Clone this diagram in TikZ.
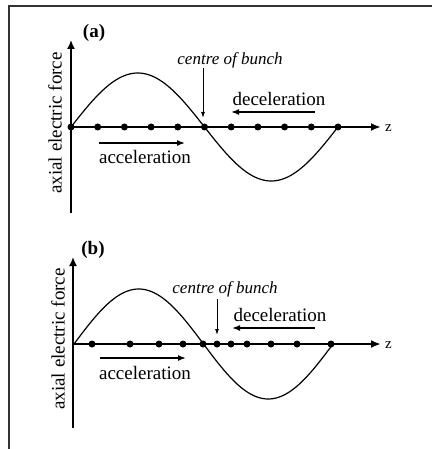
\documentclass[tikz,border=0pt]{standalone}
\usepackage{fontspec}
\setmainfont{Liberation Serif}
\usetikzlibrary{arrows.meta}
\begin{document}
\begin{tikzpicture}[x=1pt,y=-1pt,
  lbl/.style={font=\fontsize{19}{19}\selectfont, inner sep=0pt},
  cbl/.style={font=\fontsize{17}{17}\selectfont\itshape, inner sep=0pt},
  axis/.style={line width=1.6pt,-{Latex[length=9pt,width=8pt]}},
  zaxis/.style={line width=2.2pt,-{Latex[length=10pt,width=8pt]}},
  wave/.style={line width=1.2pt},
  bigarrow/.style={line width=1.5pt,-{Latex[length=8pt,width=6pt]}},
  thinarrow/.style={line width=0.9pt,-{Latex[length=6pt,width=4pt]}},
  bdot/.style={circle,fill=black,inner sep=0pt,minimum size=7pt}]
\useasboundingbox (0,0) rectangle (432,449);
\fill[white] (0,0) rectangle (432,449);
% frame
\draw[line width=1.3pt,black!80] (9,449) -- (9,6) -- (432,6);

% ---------- panel (a) ----------
\coordinate (ao) at (71,127);
\coordinate (ayb) at (71,213);
\coordinate (ayt) at (71,40);
\coordinate (azt) at (381,127);
\draw[axis] (ayb) -- (ayt);
\draw[wave] plot[domain=0:360,samples=120] ({71+\x/360*267},{127-54*sin(\x)});
\draw[zaxis] (ao) -- (azt);
\foreach \i in {0,...,10} {\node[bdot] (ad\i) at ({71+\i*26.7},127) {};}
\node[lbl,font=\fontsize{19}{19}\selectfont\bfseries] (alab) at (94,33) {(a)};
\node[lbl,font=\fontsize{15}{15}\selectfont,anchor=west] (az) at (385,128) {z};
\node[lbl,rotate=90] (ay) at (55,123) {axial electric force};
\node[cbl] (acb) at (230,60) {centre of bunch};
\coordinate (acbs) at (203,68);
\coordinate (acbt) at (203,118);
\draw[thinarrow] (acbs) -- (acbt);
\node[lbl] (adec) at (279,99) {deceleration};
\coordinate (adecs) at (315,112);
\coordinate (adect) at (231,112);
\draw[bigarrow] (adecs) -- (adect);
\coordinate (aaccs) at (99,143);
\coordinate (aacct) at (185,143);
\draw[bigarrow] (aaccs) -- (aacct);
\node[lbl] (aacc) at (145,157) {acceleration};

% ---------- panel (b) ----------
\coordinate (bo) at (73,344);
\coordinate (byb) at (73,428);
\coordinate (byt) at (73,257);
\coordinate (bzt) at (381,344);
\draw[axis] (byb) -- (byt);
\draw[wave] plot[domain=0:360,samples=120] ({74+\x/360*259},{344-55*sin(\x)});
\draw[zaxis] (bo) -- (bzt);
\foreach \xx [count=\i] in {92,130,159,183,203,217,231,247,271,297,331}
  {\node[bdot] (bd\i) at (\xx,344) {};}
\node[lbl,font=\fontsize{19}{19}\selectfont\bfseries] (blab) at (93,250) {(b)};
\node[lbl,font=\fontsize{15}{15}\selectfont,anchor=west] (bz) at (385,345) {z};
\node[lbl,rotate=90] (by) at (58,339) {axial electric force};
\node[cbl] (bcb) at (225,289) {centre of bunch};
\coordinate (bcbs) at (217,299);
\coordinate (bcbt) at (217,335);
\draw[thinarrow] (bcbs) -- (bcbt);
\node[lbl] (bdec) at (280,315) {deceleration};
\coordinate (bdecs) at (315,328);
\coordinate (bdect) at (232,328);
\draw[bigarrow] (bdecs) -- (bdect);
\coordinate (baccs) at (100,358);
\coordinate (bacct) at (186,358);
\draw[bigarrow] (baccs) -- (bacct);
\node[lbl] (bacc) at (145,373) {acceleration};
\end{tikzpicture}
\end{document}
